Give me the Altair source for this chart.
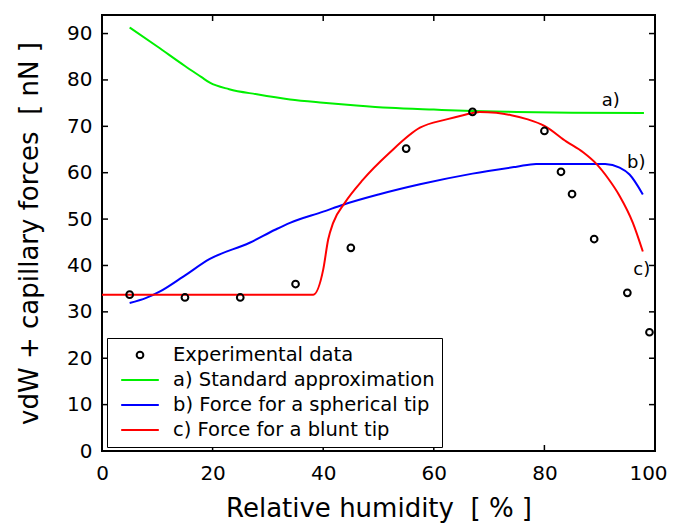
import altair as alt
import pandas as pd

FONT = "DejaVu Sans"

# ---- axis ticks ----
x_ticks = [0, 20, 40, 60, 80, 100]
y_ticks = [0, 10, 20, 30, 40, 50, 60, 70, 80, 90]

# ---- series ----
series_names = ["Experimental data", "a) Standard approximation",
                "b) Force for a spherical tip", "c) Force for a blunt tip"]
series_colors = ["#000000", "#00f000", "#0000ff", "#ff0000"]

exp_x = [5, 15, 25, 35, 45, 55, 67, 80, 83, 85, 89, 95, 99]
exp_y = [33.7, 33.1, 33.1, 36.0, 43.8, 65.2, 73.1, 69.0, 60.2, 55.4, 45.7, 34.1, 25.6]

a_x = [5, 10, 15, 18, 19.5, 23, 28, 34, 40, 46, 52, 60, 67, 75, 85, 98]
a_y = [91.3, 87.2, 83.0, 80.6, 79.4, 78.0, 76.9, 75.8, 75.1, 74.5, 74.0, 73.6, 73.3, 73.1, 72.95, 72.85]

b_x = [5, 8, 10.5, 14.7, 19.5, 26.7, 31.3, 34, 40, 43.6, 50, 57.5, 67, 75, 78.5, 85, 91, 93.6, 95.4, 97.8]
b_y = [31.9, 33.0, 34.4, 37.6, 41.4, 44.9, 47.7, 49.2, 51.6, 53.1, 55.3, 57.5, 59.8, 61.3, 61.9, 61.9, 61.85, 61.1, 59.6, 55.3]

c_x = [0, 38.2, 40, 40.9, 41.8, 43.9, 47.2, 52, 57.5, 62.3, 65.3, 68.3, 71.3, 74, 77, 80, 84, 87, 89.4, 91.5, 93.6, 96, 97.8]
c_y = [33.7, 33.7, 39.1, 45.6, 49.2, 53.5, 58.5, 64.3, 69.7, 71.5, 72.4, 73.1, 72.9, 72.4, 71.5, 70.1, 66.7, 64.4, 61.9, 58.8, 55.0, 49.2, 43.0]

# curve annotations
lab_text = ["a)", "b)", "c)"]
lab_x = [92.0, 96.6, 97.6]
lab_y = [75.5, 62.1, 39.1]

W, H = 553, 436

exp_df = pd.DataFrame({"x": exp_x, "y": exp_y, "s": series_names[0]})
lines_df = pd.concat([
    pd.DataFrame({"x": a_x, "y": a_y, "s": series_names[1]}),
    pd.DataFrame({"x": b_x, "y": b_y, "s": series_names[2]}),
    pd.DataFrame({"x": c_x, "y": c_y, "s": series_names[3]}),
], ignore_index=True)
lab_df = pd.DataFrame({"x": lab_x, "y": lab_y, "t": lab_text})
xt_df = pd.DataFrame({"x": x_ticks})
yt_df = pd.DataFrame({"y": y_ticks})

xs = alt.Scale(domain=[0, 100], nice=False, zero=False)
ys = alt.Scale(domain=[0, 94], nice=False, zero=False)

x_axis = alt.Axis(values=x_ticks, ticks=False, tickSize=0, domain=False, grid=False,
                  labelFont=FONT, labelFontSize=20, labelColor="black", labelPadding=12,
                  labelFlush=False, labelOverlap=False,
                  labelOffset={"condition": {"test": "datum.value >= 100", "value": -7}, "value": 0},
                  title="Relative humidity \u00a0[ % ]", titleFont=FONT, titleFontSize=26,
                  titleFontWeight="normal", titleColor="black", titleY=65,
                  titleBaseline="alphabetic")
y_axis = alt.Axis(values=y_ticks, ticks=False, tickSize=0, domain=False, grid=False,
                  labelFont=FONT, labelFontSize=20, labelColor="black", labelPadding=10,
                  labelFlush=False, labelOverlap=False,
                  title="vdW + capillary forces \u00a0[ nN ]", titleFont=FONT, titleFontSize=26,
                  titleFontWeight="normal", titleColor="black", titleX=-65,
                  titleBaseline="alphabetic")

X = alt.X("x:Q", scale=xs, axis=x_axis)
Y = alt.Y("y:Q", scale=ys, axis=y_axis)

leg = alt.Legend(title=None, orient="none", legendX=5, legendY=323,
                 labelFont=FONT, labelFontSize=19.5, labelColor="black",
                 strokeColor="black", fillColor="white", padding=7, rowPadding=5,
                 clipHeight=20, symbolOffset=6, labelOffset=13, symbolStrokeWidth=2,
                 labelLimit=500)

color_scale = alt.Scale(domain=series_names, range=series_colors)
shape_scale = alt.Scale(domain=series_names, range=["circle", "stroke", "stroke", "stroke"])
size_scale = alt.Scale(type="ordinal", domain=series_names, range=[45, 1414, 1414, 1414])

points = alt.Chart(exp_df).mark_point(filled=False, strokeWidth=2, opacity=1).encode(
    x=X, y=Y,
    color=alt.Color("s:N", scale=color_scale, legend=leg),
    shape=alt.Shape("s:N", scale=shape_scale, legend=leg),
    size=alt.Size("s:N", scale=size_scale, legend=leg),
)

lines = alt.Chart(lines_df).mark_line(strokeWidth=2, interpolate="monotone").encode(
    x=X, y=Y,
    color=alt.Color("s:N", scale=color_scale, legend=leg),
)

labels = alt.Chart(lab_df).mark_text(font=FONT, fontSize=18, color="black",
                                     align="center", baseline="middle").encode(
    x=X, y=Y, text="t:N")

tick_b = alt.Chart(xt_df).mark_rule(color="black", strokeWidth=1.5).encode(
    x=X, y=alt.value(H), y2=alt.value(H - 6))
tick_t = alt.Chart(xt_df).mark_rule(color="black", strokeWidth=1.5).encode(
    x=X, y=alt.value(0), y2=alt.value(6))
tick_l = alt.Chart(yt_df).mark_rule(color="black", strokeWidth=1.5).encode(
    y=Y, x=alt.value(0), x2=alt.value(6))
tick_r = alt.Chart(yt_df).mark_rule(color="black", strokeWidth=1.5).encode(
    y=Y, x=alt.value(W - 6), x2=alt.value(W))

chart = alt.layer(lines, points, labels, tick_b, tick_t, tick_l, tick_r).properties(
    width=W, height=H,
    autosize=alt.AutoSizeParams(type="none"),
    padding={"left": 94, "top": 7, "right": 13, "bottom": 72},
).configure(background="white").configure_view(stroke="black", strokeWidth=2)

chart.save("out.html", embed_options={"renderer": "svg", "actions": False})
